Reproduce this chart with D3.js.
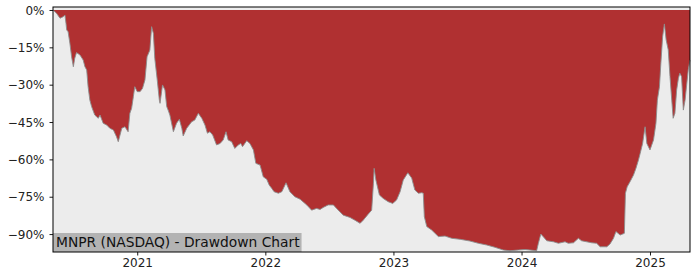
<!doctype html>
<html lang="en">
<head>
  <meta charset="utf-8">
  <title>drawdown chart</title>
  <style>
    * { margin: 0; padding: 0; box-sizing: border-box; }
    body { background: #fff; }
    text { font-family: "DejaVu Sans", sans-serif; }
  </style>
</head>
<body>
  <div class="chart"></div>
  <script src="https://cdn.jsdelivr.net/npm/d3@7"></script>
  <script>
    // ---------------------------------------------------------------
    //@@ data (drawdown in %)
    const dates = [
      '2020-05-06','2020-05-16','2020-05-26','2020-06-04','2020-06-09','2020-06-12','2020-06-14','2020-06-18',
      '2020-06-23','2020-06-28','2020-07-03','2020-07-07','2020-07-12','2020-07-22','2020-07-31','2020-08-05',
      '2020-08-10','2020-08-14','2020-08-19','2020-08-24','2020-09-02','2020-09-12','2020-09-17','2020-09-26',
      '2020-10-06','2020-10-15','2020-10-25','2020-11-03','2020-11-08','2020-11-13','2020-11-18','2020-11-27',
      '2020-12-06','2020-12-11','2020-12-16','2020-12-21','2020-12-25',
      '2021-01-01','2021-01-09','2021-01-16','2021-01-23','2021-01-29','2021-02-06','2021-02-11','2021-02-16',
      '2021-02-20','2021-02-27','2021-03-05','2021-03-07','2021-03-14','2021-03-21','2021-03-26','2021-03-30',
      '2021-04-04','2021-04-14','2021-04-23','2021-05-01','2021-05-08','2021-05-12','2021-05-22','2021-06-05',
      '2021-06-14','2021-06-24','2021-07-04','2021-07-13','2021-07-20','2021-07-27','2021-08-04','2021-08-15',
      '2021-08-25','2021-09-03','2021-09-11','2021-09-17','2021-09-27','2021-10-06','2021-10-16','2021-10-23',
      '2021-10-28','2021-11-09','2021-11-18','2021-11-28','2021-12-05','2021-12-17','2021-12-26',
      '2022-01-05','2022-01-12','2022-01-19','2022-01-26','2022-02-07','2022-02-17','2022-03-01','2022-03-12',
      '2022-03-26','2022-04-10','2022-04-29','2022-05-13','2022-05-27','2022-06-06','2022-06-15','2022-06-29',
      '2022-07-14','2022-07-23','2022-08-11','2022-08-30','2022-09-13','2022-09-28','2022-10-07','2022-10-21',
      '2022-10-31','2022-11-05','2022-11-07','2022-11-12','2022-11-22','2022-12-03','2022-12-17','2022-12-30',
      '2023-01-10','2023-01-20','2023-01-29','2023-02-11','2023-02-22','2023-03-03','2023-03-13','2023-03-23',
      '2023-03-27','2023-03-30','2023-04-06','2023-04-20','2023-05-09','2023-05-28','2023-06-16','2023-07-10',
      '2023-08-07','2023-08-31','2023-09-24','2023-10-17','2023-11-10','2023-11-29','2023-12-23',
      '2024-01-11','2024-01-25','2024-02-13','2024-02-18','2024-02-25','2024-03-03','2024-03-13','2024-04-01',
      '2024-04-15','2024-05-04','2024-05-13','2024-05-28','2024-06-11','2024-06-20','2024-07-19','2024-08-02',
      '2024-08-12','2024-08-31','2024-09-09','2024-09-19','2024-09-26','2024-10-08','2024-10-20','2024-10-23',
      '2024-10-28','2024-11-05','2024-11-15','2024-11-22','2024-11-29','2024-12-04','2024-12-11','2024-12-18',
      '2024-12-23',
      '2025-01-01','2025-01-11','2025-01-18','2025-01-22','2025-01-28','2025-02-01','2025-02-06','2025-02-11',
      '2025-02-16','2025-02-22','2025-02-27','2025-03-04','2025-03-08','2025-03-13','2025-03-18','2025-03-23',
      '2025-03-27','2025-04-01','2025-04-06','2025-04-11','2025-04-16','2025-04-20','2025-04-25'
    ];
    const drawdown = [
      0, -1.3, -3.3, -2.7, -2.0, -5.3, -8.0, -8.7,
      -13.3, -18.8, -22.8, -19.4, -17.1, -18.1, -20.1, -22.8,
      -24.1, -30.8, -36.2, -38.8, -42.2, -43.5, -42.2, -45.5,
      -46.2, -47.5, -48.2, -50.9, -52.9, -50.2, -47.5, -46.9,
      -48.9, -41.5, -39.5, -34.8, -30.8,
      -32.8, -32.8, -31.5, -28.1, -18.8, -16.1, -6.7, -9.4,
      -19.4, -28.1, -36.2, -37.5, -30.1, -32.1, -38.8, -40.2,
      -42.2, -48.9, -45.5, -43.9, -47.5, -50.6, -47.5, -44.9,
      -44.2, -41.5, -43.5, -46.2, -49.5, -48.9, -50.2, -54.2,
      -53.6, -52.2, -48.9, -52.2, -52.9, -55.6, -54.2, -53.6,
      -54.9, -52.5, -53.6, -56.2, -61.6, -62.3, -67.0,
      -68.0, -70.3, -71.6, -73.0, -73.6, -73.0, -69.4, -73.0,
      -75.0, -76.0, -78.3, -80.4, -79.7, -80.1, -79.3, -78.3,
      -78.3, -79.7, -82.4, -83.3, -84.4, -85.7, -84.4, -82.0,
      -80.4, -69.6, -63.6, -68.3, -74.3, -75.7, -77.0, -77.7,
      -76.3, -73.0, -68.3, -65.4, -67.5, -72.3, -73.6, -73.4,
      -73.6, -83.0, -87.0, -88.4, -91.0, -90.8, -91.7, -92.1,
      -92.8, -93.7, -94.4, -95.3, -96.4, -96.7, -96.4,
      -96.2, -96.4, -96.7, -93.7, -90.0, -91.1, -92.7, -93.1,
      -93.7, -93.1, -93.7, -93.5, -91.7, -92.7, -93.5, -93.7,
      -95.1, -95.1, -94.0, -91.7, -89.0, -90.4, -89.7, -73.6,
      -71.0, -69.0, -66.3, -63.6, -60.3, -57.6, -53.6, -46.9,
      -53.6,
      -56.2, -52.2, -45.5, -36.2, -30.8, -21.4, -10.7, -5.6,
      -12.0, -16.0, -26.8, -36.2, -43.5, -41.5, -32.1, -27.4,
      -25.4, -26.8, -40.2, -36.2, -29.4, -24.1, -20.1
    ];
    const yTicks = [0, -15, -30, -45, -60, -75, -90];
    const xTicks = ['2021-01-01', '2022-01-01', '2023-01-01', '2024-01-01', '2025-01-01'];
    const title = 'MNPR (NASDAQ) - Drawdown Chart';

    // ---------------------------------------------------------------
    //@@ svg configuration
    const svgDim = {w: 700, h: 280};
    const svgMarg = {t: 7, r: 10, b: 28, l: 53};
    const stageDim = {
      w: svgDim.w - svgMarg.l - svgMarg.r,
      h: svgDim.h - svgMarg.t - svgMarg.b
    };

    const parse = d3.utcParse('%Y-%m-%d');
    const data = dates.map((d, i) => ({date: parse(d), value: drawdown[i]}));

    const svg = d3.select('.chart').append('svg')
      .attr('width', svgDim.w)
      .attr('height', svgDim.h);

    const stage = svg.append('g')
      .attr('transform', `translate(${svgMarg.l},${svgMarg.t})`);

    //@@ scales
    const scaleX = d3.scaleUtc()
      .domain([data[0].date, data[data.length - 1].date])
      .range([0, stageDim.w]);
    const scaleY = d3.scaleLinear()
      .domain([-97.2, 1.2])
      .range([stageDim.h, 0]);

    //@@ background
    stage.append('rect')
      .attr('width', stageDim.w)
      .attr('height', stageDim.h)
      .attr('fill', '#ececec');

    //@@ drawdown area (from 0 down to value)
    const area = d3.area()
      .x(d => scaleX(d.date))
      .y0(scaleY(0))
      .y1(d => scaleY(d.value));
    stage.append('path')
      .datum(data)
      .attr('d', area)
      .attr('fill', '#b03031');

    const line = d3.line()
      .x(d => scaleX(d.date))
      .y(d => scaleY(d.value));
    stage.append('path')
      .datum(data)
      .attr('d', line)
      .attr('fill', 'none')
      .attr('stroke', '#8c8c8c')
      .attr('stroke-width', 0.9);

    //@@ title box
    const box = stage.append('g')
      .attr('transform', `translate(0,${stageDim.h})`);
    const boxText = box.append('text')
      .attr('x', 3)
      .attr('y', -5)
      .attr('font-size', 13.8)
      .attr('fill', '#111')
      .text(title);
    const tw = boxText.node().getComputedTextLength();
    box.insert('rect', 'text')
      .attr('x', 0)
      .attr('y', -19)
      .attr('width', tw + 5)
      .attr('height', 19)
      .attr('fill', '#b3b3b3');

    //@@ axes
    const axisX = d3.axisBottom(scaleX)
      .tickValues(xTicks.map(parse))
      .tickFormat(d3.utcFormat('%Y'))
      .tickSize(3.5)
      .tickPadding(3);
    const gx = stage.append('g')
      .attr('transform', `translate(0,${stageDim.h})`)
      .call(axisX);

    const axisY = d3.axisLeft(scaleY)
      .tickValues(yTicks)
      .tickFormat(d => d3.format('.0f')(d).replace('-', '\u2212') + '%')
      .tickSize(3.5)
      .tickPadding(5);
    const gy = stage.append('g').call(axisY);

    [gx, gy].forEach(g => {
      g.select('.domain').remove();
      g.selectAll('text')
        .attr('font-size', 12)
        .attr('font-family', '"DejaVu Sans", sans-serif')
        .attr('fill', '#222');
      g.selectAll('line').attr('stroke', '#000').attr('stroke-width', 0.9);
    });
    gy.selectAll('text').attr('dy', '0.35em');

    //@@ frame
    stage.append('rect')
      .attr('x', 0)
      .attr('y', 0)
      .attr('width', stageDim.w)
      .attr('height', stageDim.h)
      .attr('fill', 'none')
      .attr('stroke', '#000')
      .attr('stroke-width', 1);
  </script>
</body>
</html>
